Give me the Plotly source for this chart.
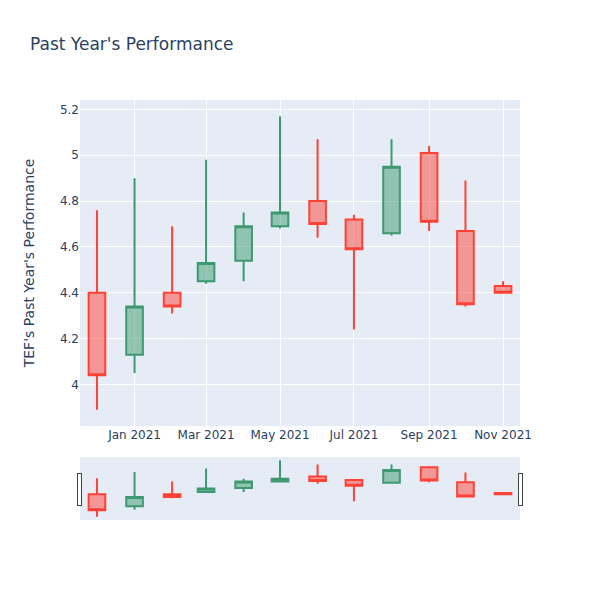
import plotly.graph_objects as go

dates = ["2020-12-01", "2021-01-01", "2021-02-01", "2021-03-01", "2021-04-01", "2021-05-01",
         "2021-06-01", "2021-07-01", "2021-08-01", "2021-09-01", "2021-10-01", "2021-11-01"]
opens = [4.40, 4.13, 4.40, 4.45, 4.54, 4.69, 4.80, 4.72, 4.66, 5.01, 4.67, 4.43]
highs = [4.76, 4.90, 4.69, 4.98, 4.75, 5.17, 5.07, 4.74, 5.07, 5.04, 4.89, 4.45]
lows = [3.89, 4.05, 4.31, 4.44, 4.45, 4.68, 4.64, 4.24, 4.65, 4.67, 4.34, 4.40]
closes = [4.04, 4.34, 4.34, 4.53, 4.69, 4.75, 4.70, 4.59, 4.95, 4.71, 4.35, 4.40]

fig = go.Figure(go.Candlestick(x=dates, open=opens, high=highs, low=lows, close=closes))
fig.update_layout(
    title="Past Year's Performance",
    yaxis_title="TEF's Past Year's Performance",
    yaxis_title_standoff=22,
    width=600, height=600,
    font=dict(family="DejaVu Sans"),
)
fig.write_html("out.html", config={"displayModeBar": False},
               post_script="document.body.style.margin='0';")
